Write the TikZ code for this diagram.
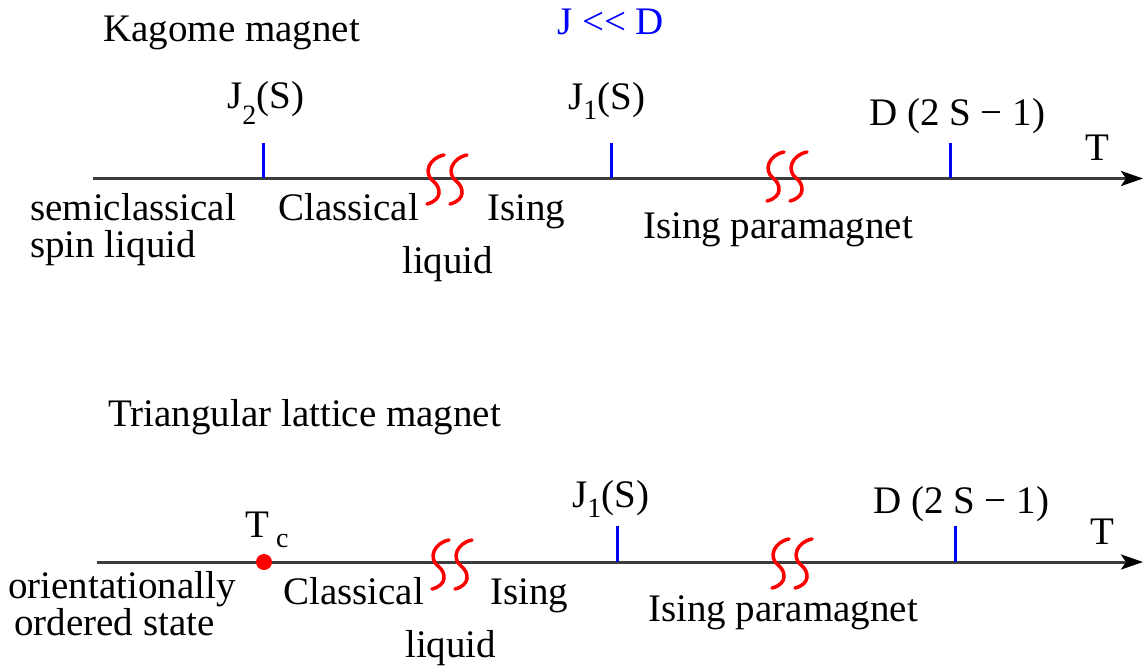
\documentclass[tikz,border=0pt]{standalone}
\usepackage{fontspec}
\setmainfont{LiberationSerif-Regular.ttf}
\usetikzlibrary{arrows.meta}
\definecolor{axisgray}{RGB}{60,60,60}
\newcommand\mysub[2]{\raisebox{-#1pt}{\fontsize{28}{28}\selectfont #2}}
\begin{document}
\begin{tikzpicture}[x=1pt,y=-1pt,
  lbl/.style={font=\fontsize{39}{39}\selectfont, inner sep=0pt, anchor=base west},
  axisline/.style={draw=axisgray, line width=3pt, -{Stealth[length=22pt,width=15pt,inset=5pt,color=black]}},
  tickline/.style={draw=blue, line width=3pt},
  squigline/.style={draw=red, line width=3.5pt, line cap=round},
  squig/.pic={\path[squigline] (9,-24) .. controls (-6,-21) and (-12,-6) .. (-2,2) .. controls (6,8) and (8,21) .. (-8,25);}
]
\useasboundingbox (0,0) rectangle (1144,668);

% ---------- Kagome ----------
\node[lbl] (kag) at (103,42) {Kagome magnet};
\node[lbl, text=blue] (jd) at (557,35) {J <{}< D};

\coordinate (axAs) at (93,178.5);
\coordinate (axAe) at (1143,178.5);
\draw[axisline] (axAs) -- (axAe);

\coordinate (tA1a) at (263,143); \coordinate (tA1b) at (263,178.5);
\coordinate (tA2a) at (611,143); \coordinate (tA2b) at (611,178.5);
\coordinate (tA3a) at (950,143); \coordinate (tA3b) at (950,178.5);
\draw[tickline] (tA1a) -- (tA1b);
\draw[tickline] (tA2a) -- (tA2b);
\draw[tickline] (tA3a) -- (tA3b);

\node[lbl] (j2) at (227,109) {J\mysub{16}{2}(S)};
\node[lbl] (j1a) at (568,110) {J\mysub{10}{1}(S)};
\node[lbl] (dA) at (869,126) {D (2 S − 1)};
\node[lbl] (TA) at (1085,161) {T};

\pic at (435,179) {squig};
\pic at (458,179) {squig};
\pic at (775,176) {squig};
\pic at (798,176) {squig};

\node[lbl] (semi1) at (30,221) {semiclassical};
\node[lbl] (semi2) at (30,258) {spin liquid};
\node[lbl] (clA) at (278,221) {Classical};
\node[lbl] (isA) at (487,221) {Ising};
\node[lbl] (lqA) at (402,274) {liquid};
\node[lbl] (ipA) at (643,239) {Ising paramagnet};

% ---------- Triangular ----------
\node[lbl] (tri) at (108,427) {Triangular lattice magnet};

\coordinate (axBs) at (97,562);
\coordinate (axBe) at (1143,562);
\draw[axisline] (axBs) -- (axBe);

\coordinate (tB2a) at (617,526); \coordinate (tB2b) at (617,562);
\coordinate (tB3a) at (955,526); \coordinate (tB3b) at (955,562);
\draw[tickline] (tB2a) -- (tB2b);
\draw[tickline] (tB3a) -- (tB3b);

\node[circle, fill=red, minimum size=16pt, inner sep=0pt] (tcdot) at (264,562) {};
\node[lbl] (tc) at (245,537) {T\hspace{7pt}\mysub{10}{c}};
\node[lbl] (j1b) at (572,507) {J\mysub{10}{1}(S)};
\node[lbl] (dB) at (873,513) {D (2 S − 1)};
\node[lbl] (TB) at (1090,544) {T};

\pic at (440,564) {squig};
\pic at (463,564) {squig};
\pic at (780,563) {squig};
\pic at (803,563) {squig};

\node[lbl] (or1) at (8,598) {orientationally};
\node[lbl] (or2) at (14,635) {ordered state};
\node[lbl] (clB) at (283,604) {Classical};
\node[lbl] (isB) at (490,604) {Ising};
\node[lbl] (lqB) at (405,657) {liquid};
\node[lbl] (ipB) at (648,621) {Ising paramagnet};
\end{tikzpicture}
\end{document}
